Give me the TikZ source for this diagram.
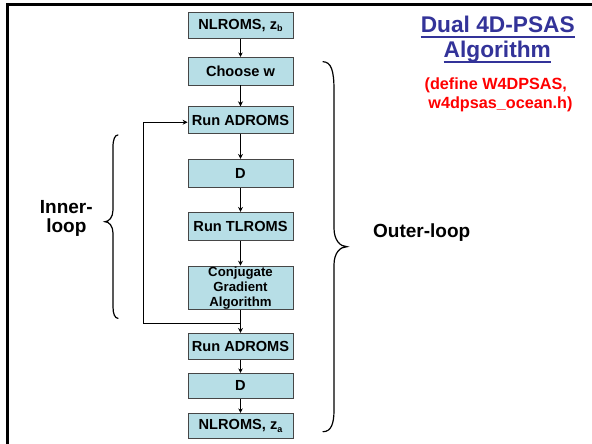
\documentclass[tikz,border=0pt]{standalone}
\usepackage{fontspec}
\setmainfont{Liberation Sans}
\usetikzlibrary{arrows.meta,calc}
\definecolor{boxfill}{RGB}{183,222,230}
\definecolor{boxline}{RGB}{70,70,70}
\definecolor{titleblue}{RGB}{51,51,153}
\newcommand{\lowsub}[1]{\raisebox{-2.8pt}{\fontsize{9}{9}\selectfont #1}}
\begin{document}
\begin{tikzpicture}[x=1pt,y=-1pt,
  stepbox/.style={draw=boxline,line width=0.8pt,fill=boxfill,minimum width=105pt,
    inner sep=0pt,align=center,font=\fontsize{14.6}{16}\selectfont\bfseries},
  flow/.style={line width=1.3pt,-{Stealth[length=5pt,width=5pt]}},
  thinflow/.style={line width=0.8pt,-{Stealth[length=4.5pt,width=4.5pt]}},
  brace/.style={line width=1.2pt,line cap=round},
  lbl/.style={inner sep=0pt,anchor=base,font=\fontsize{19}{21}\selectfont\bfseries}]
\useasboundingbox (0,0) rectangle (592,444);
\fill[white] (0,0) rectangle (592,444);

% slide frame
\draw[line width=3pt] (7.5,444) -- (7.5,4.7) -- (592,4.7);

% flow boxes
\node[stepbox,minimum height=25.6pt] (nlb) at (240.5,25.5) {NLROMS, z\lowsub{b}};
\node[stepbox,minimum height=27.7pt] (chw) at (240.5,71.2) {Choose w};
\node[stepbox,minimum height=26.6pt] (ad1) at (240.5,120) {Run ADROMS};
\node[stepbox,minimum height=28.4pt] (d1) at (240.5,173.5) {D};
\node[stepbox,minimum height=28.4pt] (tl) at (240.5,226.5) {Run TLROMS};
\node[stepbox,minimum height=43.3pt,font=\fontsize{13.2}{15}\selectfont\bfseries] (cg) at (240.5,287.7) {Conjugate\\Gradient\\Algorithm};
\node[stepbox,minimum height=26pt] (ad2) at (240.5,346.3) {Run ADROMS};
\node[stepbox,minimum height=25pt] (d2) at (240.5,385.8) {D};
\node[stepbox,minimum height=25pt] (nla) at (240.5,425.8) {NLROMS, z\lowsub{a}};

% connectors
\draw[thinflow] (nlb) -- (chw);
\draw[flow] (chw) -- (ad1);
\draw[flow] (ad1) -- (d1);
\draw[flow] (d1) -- (tl);
\draw[flow] (tl) -- (cg);
\draw[flow] (cg) -- (ad2);
\draw[thinflow] (ad2) -- (d2);
\draw[thinflow] (d2) -- (nla);

% inner-loop feedback
\coordinate (junc) at (240.5,323.3);
\coordinate (back) at (143.3,323.3);
\draw[flow] (junc) -- (back) |- ([yshift=-2.3pt]ad1.west);

% braces
\draw[brace] (323,61.7) .. controls (331,62) and (334,70) .. (334,90)
  -- (334,228) .. controls (334,240) and (340,246.7) .. (347,246.7)
  .. controls (340,246.7) and (334,253) .. (334,265)
  -- (334,410) .. controls (334,424) and (331,431.7) .. (323,431.7);
\draw[brace] (118,135) .. controls (115,135) and (113,139) .. (113,147)
  -- (113,210) .. controls (113,217) and (109,221.7) .. (105,221.7)
  .. controls (109,221.7) and (113,226) .. (113,233)
  -- (113,307) .. controls (113,314) and (115,318.3) .. (118,318.3);

% loop labels
\node[lbl] (inner1) at (66.3,213.3) {Inner-};
\node[lbl] (inner2) at (66.3,232.7) {loop};
\node[lbl] (outer) at (421.7,237) {Outer-loop};

% title
\node[inner sep=0pt,anchor=base,text=titleblue,font=\fontsize{22.7}{24}\selectfont\bfseries] (t1) at (497.8,33) {Dual 4D-PSAS};
\node[inner sep=0pt,anchor=base,text=titleblue,font=\fontsize{22.7}{24}\selectfont\bfseries] (t2) at (497.3,58) {Algorithm};
\draw[titleblue,line width=2pt] ($(t1.base west)+(0,4)$) -- ($(t1.base east)+(0,4)$);
\draw[titleblue,line width=2pt] ($(t2.base west)+(0,4)$) -- ($(t2.base east)+(0,4)$);
\node[inner sep=0pt,anchor=base,text=red,font=\fontsize{16.2}{18}\selectfont\bfseries] (n1) at (495.8,89.5) {(define W4DPSAS,};
\node[inner sep=0pt,anchor=base,text=red,font=\fontsize{16.2}{18}\selectfont\bfseries] (n2) at (500.5,108.5) {w4dpsas\_ocean.h)};
\end{tikzpicture}
\end{document}
